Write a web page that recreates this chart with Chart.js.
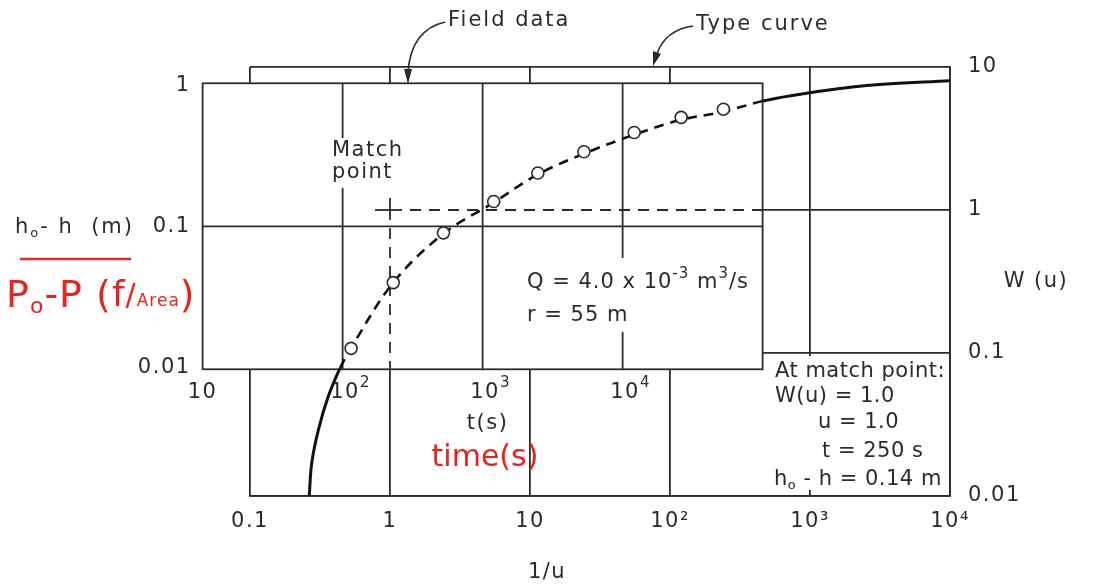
<!DOCTYPE html>
<html>
<head>
<meta charset="utf-8">
<script src="https://cdn.jsdelivr.net/npm/chart.js@4.4.0/dist/chart.umd.min.js"></script>
<style>
  html, body { margin: 0; padding: 0; background: #fff; }
  #wrap { width: 1095px; height: 588px; }
</style>
</head>
<body>
<div id="wrap"><canvas id="myCanvas" width="1095" height="588"></canvas></div>
<script>
/* Type curve: 1/u and W(u) */
var inv_u = [0.265, 0.276, 0.308, 0.362, 0.44, 0.526, 1.05, 2.39, 5.44, 11.2, 23.9, 54.4, 118, 235, 461, 968, 2820, 10000];
var w_u   = [0.01, 0.017, 0.029, 0.0496, 0.0785, 0.108, 0.309, 0.679, 1.12, 1.76, 2.46, 3.34, 4.26, 4.84, 5.78, 6.58, 7.48, 8.0];

/* Field data: time t (s) and drawdown h0-h (m) */
var time_s     = [115, 230, 525, 1200, 2480, 5290, 12100, 26200, 52500];
var drawdown_m = [0.0140, 0.0404, 0.090, 0.149, 0.236, 0.332, 0.453, 0.578, 0.659];

/* Tick values and labels of both sheets */
var type_x_ticks  = [0.1, 1, 10, 100, 1000, 10000];
var type_x_labels = ['0.1', '1', '10', '10²', '10³', '10⁴'];
var type_y_ticks  = [0.01, 0.1, 1, 10];
var type_y_labels = ['0.01', '0.1', '1', '10'];
var field_t_ticks  = [10, 100, 1000, 10000, 100000];
var field_t_labels = ['10', '10²', '10³', '10⁴'];
var field_h_ticks  = [0.01, 0.1, 1];
var field_h_labels = ['0.01', '0.1', '1'];

/* How the field sheet sits on the type sheet, as drawn:
   t = sheet_t * (1/u) and h0-h = sheet_h * W(u) */
var sheet_t = 218;
var sheet_h = 0.13;

var FONT = "'DejaVu Sans', sans-serif";
var INK = '#2b2b2b';
var RED = '#e8231c';
var SIZE = 21;

/* draws a row of text pieces: [text, size, dy] */
function drawRuns(c, parts, x, y, color, align, spacing) {
  var w = 0;
  c.letterSpacing = (spacing === undefined ? 1.5 : spacing) + 'px';
  parts.forEach(function(p) {
    c.font = p[1] + 'px ' + FONT;
    w += c.measureText(p[0]).width;
  });
  var cx = align === 'center' ? x - w / 2 : (align === 'right' ? x - w : x);
  c.fillStyle = color;
  c.textAlign = 'left';
  c.textBaseline = 'middle';
  parts.forEach(function(p) {
    c.font = p[1] + 'px ' + FONT;
    c.fillText(p[0], cx, y + (p[2] || 0));
    cx += c.measureText(p[0]).width;
  });
}

function line(c, x1, y1, x2, y2) {
  c.beginPath();
  c.moveTo(x1, y1);
  c.lineTo(x2, y2);
  c.stroke();
}

/* is a curve segment lying on the field sheet ? */
function onSheet(ctx) {
  var x = Math.sqrt(ctx.p0.parsed.x * ctx.p1.parsed.x);
  var y = Math.sqrt(ctx.p0.parsed.y * ctx.p1.parsed.y);
  return x > 10 / sheet_t && x < 100000 / sheet_t && y > 0.01 / sheet_h && y < 1 / sheet_h;
}

/* Field sheet (white overlay with its own grid) and the boxes drawn on it */
var sheetPlugin = {
  id: 'fieldSheet',
  beforeDraw: function(chart) {
    chart.ctx.letterSpacing = '1.5px';
  },
  beforeDatasetsDraw: function(chart) {
    var c = chart.ctx, xs = chart.scales.x, ys = chart.scales.y;
    var fx = function(t) { return xs.getPixelForValue(t / sheet_t); };
    var fy = function(h) { return ys.getPixelForValue(h / sheet_h); };
    var L = fx(10), R = fx(100000), T = fy(1), B = fy(0.01);
    c.save();
    c.strokeStyle = INK;
    c.lineWidth = 1.8;

    /* "At match point" box on the type sheet hides the grid there */
    c.fillStyle = '#fff';
    c.fillRect(R + 6, ys.getPixelForValue(0.1) + 3, xs.right - R - 9, ys.bottom - ys.getPixelForValue(0.1) - 9);

    c.fillStyle = '#fff';
    c.fillRect(L, T, R - L, B - T);
    c.strokeRect(L, T, R - L, B - T);
    field_t_ticks.slice(1, -1).forEach(function(t) { line(c, fx(t), T, fx(t), B); });
    field_h_ticks.slice(1, -1).forEach(function(h) { line(c, L, fy(h), R, fy(h)); });

    /* match point cross and dashed W=1, 1/u=1 lines */
    var mx = xs.getPixelForValue(1), my = ys.getPixelForValue(1);
    line(c, mx - 15, my, mx + 12, my);
    line(c, mx, my - 12, mx, my + 10);
    c.setLineDash([11, 8]);
    line(c, mx + 20, my, R, my);
    line(c, mx, my + 18, mx, B);
    c.setLineDash([]);

    /* labels sitting on the field sheet, with white behind them */
    c.fillStyle = '#fff';
    c.fillRect(329, 138, 84, 50);
    drawRuns(c, [['Match', SIZE]], 332, 151, INK, 'left');
    drawRuns(c, [['point', SIZE]], 332, 173, INK, 'left');
    c.fillStyle = '#fff';
    c.fillRect(524, 258, 234, 74);
    drawRuns(c, [['Q = 4.0 x 10', SIZE], ['-3', 15, -9], [' m', SIZE], ['3', 15, -9], ['/s', SIZE]], 527, 283, INK, 'left', 1);
    drawRuns(c, [['r = 55 m', SIZE]], 527, 316, INK, 'left', 1);

    /* field sheet tick labels */
    field_t_labels.forEach(function(s, i) {
      var parts = i ? [['10', SIZE], [String(i + 1), 15, -9]] : [['10', SIZE]];
      drawRuns(c, parts, fx(field_t_ticks[i]) + (i ? 8 : 0), B + 23, INK, 'center');
    });
    drawRuns(c, [['t(s)', SIZE]], fx(1000) + 5, B + 54, INK, 'center');
    field_h_labels.forEach(function(s, i) {
      drawRuns(c, [[s, SIZE]], L - 12, fy(field_h_ticks[i]) + (i === 2 ? 2 : (i === 0 ? -2 : 0)), INK, 'right');
    });

    /* match point values */
    drawRuns(c, [['At match point:', SIZE]], 775, 372, INK, 'left', 0.5);
    drawRuns(c, [['W(u) = 1.0', SIZE]], 775, 397, INK, 'left', 0.5);
    drawRuns(c, [['u = 1.0', SIZE]], 818, 423, INK, 'left', 0.5);
    drawRuns(c, [['t = 250 s', SIZE]], 822, 452, INK, 'left', 0.5);
    drawRuns(c, [['h', SIZE], ['o', 13, 6], [' - h = 0.14 m', SIZE]], 774, 480, INK, 'left', 0.5);
    c.restore();
  },
  afterDraw: function(chart) {
    var c = chart.ctx;
    c.save();
    c.strokeStyle = INK;
    c.fillStyle = INK;
    c.lineWidth = 1.6;

    /* callouts */
    drawRuns(c, [['Field data', SIZE]], 448, 21, INK, 'left', 2);
    c.beginPath();
    c.moveTo(445, 22);
    c.quadraticCurveTo(411, 30, 408, 72);
    c.stroke();
    c.beginPath();
    c.moveTo(408, 84); c.lineTo(404, 69); c.lineTo(412, 69); c.closePath();
    c.fill();

    drawRuns(c, [['Type curve', SIZE]], 696, 25, INK, 'left', 2);
    c.beginPath();
    c.moveTo(693, 26);
    c.quadraticCurveTo(665, 30, 657, 54);
    c.stroke();
    c.beginPath();
    c.moveTo(653, 66); c.lineTo(653, 51); c.lineTo(661, 54); c.closePath();
    c.fill();

    /* axis titles */
    drawRuns(c, [['h', SIZE], ['o', 13, 6], ['- h  (m)', SIZE]], 15, 228, INK, 'left', 2);
    drawRuns(c, [['W (u)', SIZE]], 1036, 282, INK, 'center');
    drawRuns(c, [['1/u', SIZE]], 547, 573, INK, 'center');

    /* red hand notes */
    c.strokeStyle = RED;
    c.lineWidth = 2.5;
    line(c, 20, 259, 131, 259);
    drawRuns(c, [['P', 38], ['o', 22, 10], ['-P', 38], [' (', 38], ['f', 36], ['/', 30], ['Area', 17, 5], [')', 38]], 6, 297, RED, 'left', 1);
    drawRuns(c, [['time(s)', 30]], 485, 458, RED, 'center', 0);
    c.restore();
  }
};

var field_points = time_s.map(function(t, i) {
  return { x: t / sheet_t, y: drawdown_m[i] / sheet_h };
});
var type_points = inv_u.map(function(v, i) {
  return { x: v, y: w_u[i] };
});

var ctx = document.getElementById('myCanvas');
var myChart = new Chart(ctx, {
  type: 'scatter',
  data: {
    datasets: [{
        label: 'Field data',
        data: field_points,
        showLine: false,
        pointStyle: 'circle',
        pointRadius: 6,
        pointBackgroundColor: '#fff',
        pointBorderColor: INK,
        pointBorderWidth: 1.6,
        order: 0
      },
      {
        label: 'Type curve',
        data: type_points,
        showLine: true,
        pointRadius: 0,
        borderColor: '#111',
        borderWidth: 3,
        tension: 0.35,
        segment: {
          borderDash: function(c) { return onSheet(c) ? [10, 7] : undefined; },
          borderWidth: function(c) { return onSheet(c) ? 2.6 : undefined; }
        },
        order: 1
    }]
  },
  options: {
    responsive: false,
    animation: false,
    devicePixelRatio: 1,
    layout: {
      padding: { left: 250, top: 67, right: 0, bottom: 0 }
    },
    plugins: {
      legend: { display: false },
      tooltip: { enabled: false }
    },
    scales: {
      x: {
        type: 'logarithmic',
        min: 0.1,
        max: 10000,
        afterBuildTicks: function(axis) {
          axis.ticks = type_x_ticks.map(function(v) { return { value: v }; });
        },
        afterFit: function(axis) { axis.height = 92; },
        ticks: {
          autoSkip: false,
          maxRotation: 0,
          padding: 13,
          color: INK,
          font: { family: FONT, size: SIZE },
          callback: function(v, i) { return type_x_labels[i]; }
        },
        grid: { color: INK, lineWidth: 1.8, drawTicks: false },
        border: { display: true, color: INK, width: 1.8 }
      },
      y: {
        type: 'logarithmic',
        position: 'right',
        min: 0.01,
        max: 10,
        afterBuildTicks: function(axis) {
          axis.ticks = type_y_ticks.map(function(v) { return { value: v }; });
        },
        afterFit: function(axis) { axis.width = 145; },
        ticks: {
          padding: 18,
          color: INK,
          font: { family: FONT, size: SIZE },
          callback: function(v, i) { return type_y_labels[i]; }
        },
        grid: { color: INK, lineWidth: 1.8, drawTicks: false },
        border: { display: true, color: INK, width: 1.8 }
      }
    }
  },
  plugins: [sheetPlugin]
} );
</script>
</body>
</html>
